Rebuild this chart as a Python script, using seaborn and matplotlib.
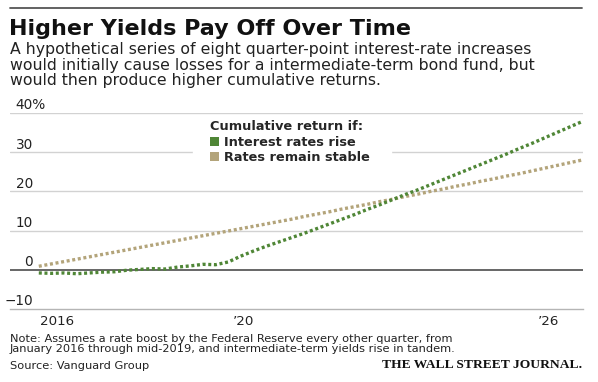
import numpy as np
import pandas as pd
import matplotlib.pyplot as plt
from matplotlib.lines import Line2D
from matplotlib.patches import Patch, Rectangle
import seaborn as sns

# Data (quarterly)
years = [2016.25 + 0.25 * i for i in range(44)]
rates_rise = [-0.8, -0.9, -0.8, -1.0, -0.8, -0.6, -0.5, -0.1, 0.1, 0.3,
              0.2, 0.7, 1.0, 1.4, 1.3, 2.0, 3.5, 4.8, 6.0, 7.1,
              8.2, 9.3, 10.5, 11.7, 12.9, 14.1, 15.4, 16.6, 17.9, 19.2,
              20.4, 21.7, 23.0, 24.3, 25.6, 26.9, 28.2, 29.5, 30.9, 32.2,
              33.6, 35.0, 36.4, 37.8]
rates_stable = [0.9, 1.5, 2.1, 2.7, 3.3, 3.9, 4.5, 5.1, 5.7, 6.3,
                6.9, 7.5, 8.1, 8.7, 9.3, 9.9, 10.5, 11.1, 11.7, 12.3,
                12.9, 13.6, 14.2, 14.8, 15.5, 16.1, 16.7, 17.4, 18.0, 18.7,
                19.3, 20.0, 20.6, 21.3, 21.9, 22.6, 23.2, 23.9, 24.5, 25.2,
                25.9, 26.6, 27.3, 28.0]
series_names = ['Interest rates rise', 'Rates remain stable']
yticks = [-10, 0, 10, 20, 30, 40]
ytick_labels = ['\u221210', '0', '10', '20', '30', '40%']
year_ticks = list(range(2017, 2027))
xlabel_pos = [2016.28, 2020.08, 2026.12]
xlabel_text = ['2016', '\u201920', '\u201926']

title = 'Higher Yields Pay Off Over Time'
subtitle = ['A hypothetical series of eight quarter-point interest-rate increases',
            'would initially cause losses for a intermediate-term bond fund, but',
            'would then produce higher cumulative returns.']
notes = ['Note: Assumes a rate boost by the Federal Reserve every other quarter, from',
         'January 2016 through mid-2019, and intermediate-term yields rise in tandem.']
source = 'Source: Vanguard Group'

green = '#4f8636'
tan = '#b3a47a'
palette = {series_names[0]: green, series_names[1]: tan}

df = pd.concat([
    pd.DataFrame({'year': years, 'value': rates_stable, 'series': series_names[1]}),
    pd.DataFrame({'year': years, 'value': rates_rise, 'series': series_names[0]}),
])

W, H = 598, 382
sns.set_style('white')
plt.rcParams['font.family'] = ['DejaVu Sans']

fig = plt.figure(figsize=(W / 100, H / 100), dpi=100)
ax = fig.add_axes([10 / W, 1 - 309 / H, 573 / W, 196 / H])

sns.lineplot(data=df, x='year', y='value', hue='series', palette=palette,
             hue_order=[series_names[1], series_names[0]],
             linestyle=(0, (0.9, 0.8)), linewidth=2.4, legend=False, ax=ax, zorder=3)

ax.set_xlim(2015.68, 2027.02)
ax.set_ylim(-10, 40)
for v in yticks[2:]:
    ax.axhline(v, color='#d2d2d2', lw=1.0, zorder=1)
ax.axhline(0, color='#5a5a5a', lw=1.3, zorder=2)
# white gap behind the legend
ax.add_patch(Rectangle((2019.30, 27), 3.93, 6, color='white', zorder=1.5))

for s in ['top', 'right', 'left']:
    ax.spines[s].set_visible(False)
ax.spines['bottom'].set_color('#b5b5b5')
ax.spines['bottom'].set_linewidth(1.0)

ax.set_yticks([])
ax.set_xticks(year_ticks)
ax.set_xticklabels([])
ax.tick_params(axis='x', which='major', length=4, width=1.2, color='#444444', direction='out')
ax.set_xticks(xlabel_pos, xlabel_text, minor=True)
ax.tick_params(axis='x', which='minor', length=0, pad=4, labelsize=9.6, labelcolor='#222222')
for lab in ax.get_xticklabels(minor=True):
    lab.set_horizontalalignment('left')
big = ax.xaxis.get_major_ticks()[year_ticks.index(2020)]
big.tick1line.set_markersize(12)
big.tick1line.set_markeredgewidth(1.5)

ytr = ax.get_yaxis_transform()
for v, t in zip(yticks, ytick_labels):
    if t.endswith('%'):
        ax.text(5 / 573, v + 0.9, t, transform=ytr, ha='left', va='baseline',
                fontsize=9.8, color='#222222')
    else:
        ax.text(23 / 573, v + 0.9, t, transform=ytr, ha='right', va='baseline',
                fontsize=9.8, color='#222222')
ax.set_xlabel('')
ax.set_ylabel('')

handles = [Patch(facecolor=green, edgecolor='none'), Patch(facecolor=tan, edgecolor='none')]
leg = ax.legend(handles, series_names, title='Cumulative return if:', frameon=False,
                loc='upper left', bbox_to_anchor=(210 / W, 1 - 120 / H),
                bbox_transform=fig.transFigure, borderpad=0, borderaxespad=0,
                handlelength=0.7, handleheight=0.7, handletextpad=0.4,
                labelspacing=0.2, alignment='left',
                prop={'weight': 'bold', 'size': 9.3},
                title_fontproperties={'weight': 'bold', 'size': 9.3})

# header
fig.add_artist(Line2D([10 / W, 582 / W], [1 - 8 / H] * 2, color='#555555', lw=1.3))
fig.text(9 / W, 1 - 35 / H, title, fontsize=16, fontweight='heavy', va='baseline', color='#111111')
fig.text(10 / W, 1 - 42 / H, '\n'.join(subtitle), fontsize=11.3, va='top',
         linespacing=1.06, color='#222222')

# footer
fig.text(10 / W, 1 - 334 / H, '\n'.join(notes), fontsize=8.2, va='top',
         linespacing=0.98, color='#222222')
fig.text(10 / W, 1 - 369 / H, source, fontsize=8.2, va='baseline', color='#222222')
fig.text(582 / W, 1 - 368 / H, 'THE WALL STREET JOURNAL.', fontsize=9.7, fontweight='bold',
         family='Liberation Serif', ha='right', va='baseline', color='#111111')

fig.savefig('out.png', dpi=100)
